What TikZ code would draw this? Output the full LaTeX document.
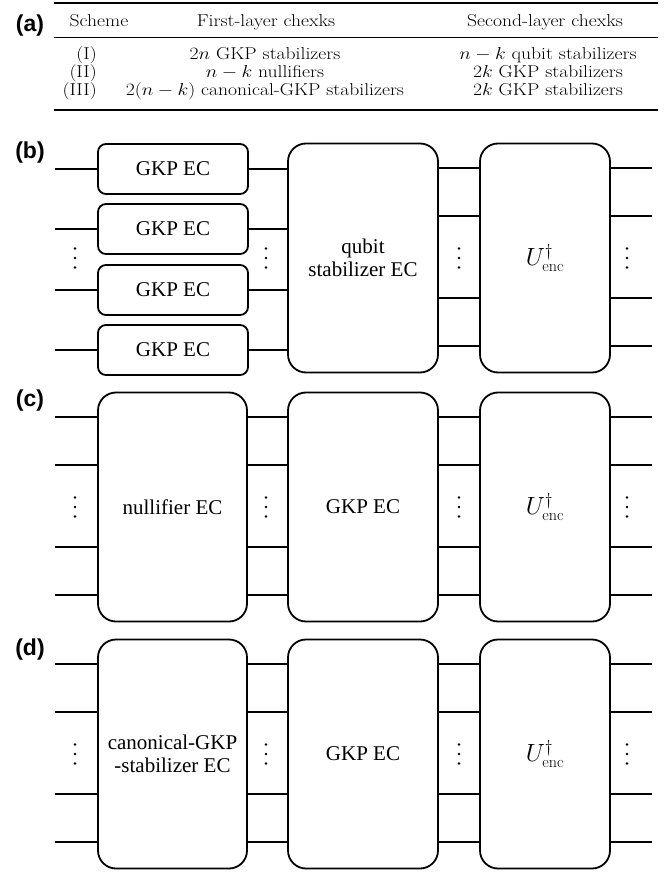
\documentclass[tikz,border=0pt]{standalone}
\usepackage{fontspec}
\usepackage{amsmath}
\usepackage{graphicx}
\usepackage{tikz}
\usetikzlibrary{positioning}
\newfontfamily\boxfont{Liberation Serif}
\newfontfamily\panelfont{Liberation Sans}
\newcommand{\tabwide}[1]{\scalebox{1.14}[1]{#1}}

\begin{document}
\begin{tikzpicture}[x=1pt, y=-1pt,
    panel/.style={font=\panelfont\bfseries\fontsize{23}{26}\selectfont, inner sep=0pt},
    tabtext/.style={font=\fontsize{17.2}{19}\selectfont, inner sep=0pt, anchor=base},
    gkpbox/.style={draw, line width=1.8pt, rounded corners=8pt, minimum width=150pt, minimum height=50pt, inner sep=0pt, font=\boxfont\fontsize{21}{24}\selectfont},
    ecbox/.style={draw, line width=1.8pt, rounded corners=18pt, minimum width=150pt, minimum height=229pt, inner sep=0pt, align=center, font=\boxfont\fontsize{21}{23}\selectfont},
    encbox/.style={ecbox, minimum width=130pt, font=\fontsize{23}{26}\selectfont},
    wire/.style={line width=1.8pt},
    vdots/.pic={\foreach \k in {-9.5,0,9.5} \fill (0,\k) circle (1.4pt);},
]
    \useasboundingbox (0,0) rectangle (667,874);

    % (a) table of checks
    \node[panel] (la) at (30,26) {(a)};
    \draw[line width=1.4pt] (54,3) -- (658,3);
    \draw[line width=0.9pt] (54,37) -- (658,37);
    \draw[line width=1.4pt] (54,110) -- (658,110);

    \node[tabtext] (hscheme) at (99,27) {\tabwide{Scheme}};
    \node[tabtext] (hfirst) at (266,27) {\tabwide{First-layer chexks}};
    \node[tabtext] (hsecond) at (545,27) {\tabwide{Second-layer chexks}};

    \node[tabtext, anchor=base east] (s1) at (97,60) {\tabwide{(I)}};
    \node[tabtext, anchor=base east] (s2) at (97,78) {\tabwide{(II)}};
    \node[tabtext, anchor=base east] (s3) at (97,96) {\tabwide{(III)}};
    \node[tabtext] (f1) at (265,60) {\tabwide{$2n$ GKP stabilizers}};
    \node[tabtext] (f2) at (265,78) {\tabwide{$n-k$ nullifiers}};
    \node[tabtext] (f3) at (265,96) {\tabwide{$2(n-k)$ canonical-GKP stabilizers}};
    \node[tabtext] (t1) at (548,60) {\tabwide{$n-k$ qubit stabilizers}};
    \node[tabtext] (t2) at (548,78) {\tabwide{$2k$ GKP stabilizers}};
    \node[tabtext] (t3) at (548,96) {\tabwide{$2k$ GKP stabilizers}};

    % (b) GKP EC then qubit stabilizer EC
    \node[panel] (lb) at (30,153) {(b)};
    \node[gkpbox] (g1) at (173,169) {GKP EC};
    \node[gkpbox] (g2) at (173,229) {GKP EC};
    \node[gkpbox] (g3) at (173,290) {GKP EC};
    \node[gkpbox] (g4) at (173,350) {GKP EC};
    \node[ecbox] (qb) at (363,258) {qubit\\stabilizer EC};
    \node[encbox] (ub) at (545,258) {$U^{\dagger}_{\mathrm{enc}}$};
    \coordinate (bin) at (55,258);
    \coordinate (bout) at (652,258);

    \foreach \g in {g1,g2,g3,g4} {
        \draw[wire] (\g.west -| bin) -- (\g.west);
        \draw[wire] (\g.east) -- (\g.east -| qb.west);
    }
    \foreach \dy in {90,42,-40,-88} {
        \draw[wire] ([yshift=\dy pt]qb.east) -- ([yshift=\dy pt]ub.west);
        \draw[wire] ([yshift=\dy pt]ub.east) -- ([yshift=\dy pt]bout);
    }
    \foreach \xd in {75,266,459,627}
        \pic at (\xd,258) {vdots};

    % (c) nullifier EC then GKP EC
    \node[panel] (lc) at (30,401) {(c)};
    \node[ecbox, minimum width=149pt] (nc) at (172.5,507) {nullifier EC};
    \node[ecbox] (gc) at (363,507) {GKP EC};
    \node[encbox] (uc) at (545,507) {$U^{\dagger}_{\mathrm{enc}}$};
    \coordinate (cin) at (55,507);
    \coordinate (cout) at (652,507);

    \foreach \dy in {90,42,-40,-88} {
        \draw[wire] ([yshift=\dy pt]cin) -- ([yshift=\dy pt]nc.west);
        \draw[wire] ([yshift=\dy pt]nc.east) -- ([yshift=\dy pt]gc.west);
        \draw[wire] ([yshift=\dy pt]gc.east) -- ([yshift=\dy pt]uc.west);
        \draw[wire] ([yshift=\dy pt]uc.east) -- ([yshift=\dy pt]cout);
    }
    \foreach \xd in {75,266,459,627}
        \pic at (\xd,507) {vdots};

    % (d) canonical-GKP-stabilizer EC then GKP EC
    \node[panel] (ld) at (30,650) {(d)};
    \node[ecbox, minimum width=149pt] (kd) at (172.5,754) {canonical-GKP\\-stabilizer EC};
    \node[ecbox] (gd) at (363,754) {GKP EC};
    \node[encbox] (ud) at (545,754) {$U^{\dagger}_{\mathrm{enc}}$};
    \coordinate (din) at (55,754);
    \coordinate (dout) at (652,754);

    \foreach \dy in {90,42,-40,-88} {
        \draw[wire] ([yshift=\dy pt]din) -- ([yshift=\dy pt]kd.west);
        \draw[wire] ([yshift=\dy pt]kd.east) -- ([yshift=\dy pt]gd.west);
        \draw[wire] ([yshift=\dy pt]gd.east) -- ([yshift=\dy pt]ud.west);
        \draw[wire] ([yshift=\dy pt]ud.east) -- ([yshift=\dy pt]dout);
    }
    \foreach \xd in {75,266,459,627}
        \pic at (\xd,754) {vdots};
\end{tikzpicture}
\end{document}
